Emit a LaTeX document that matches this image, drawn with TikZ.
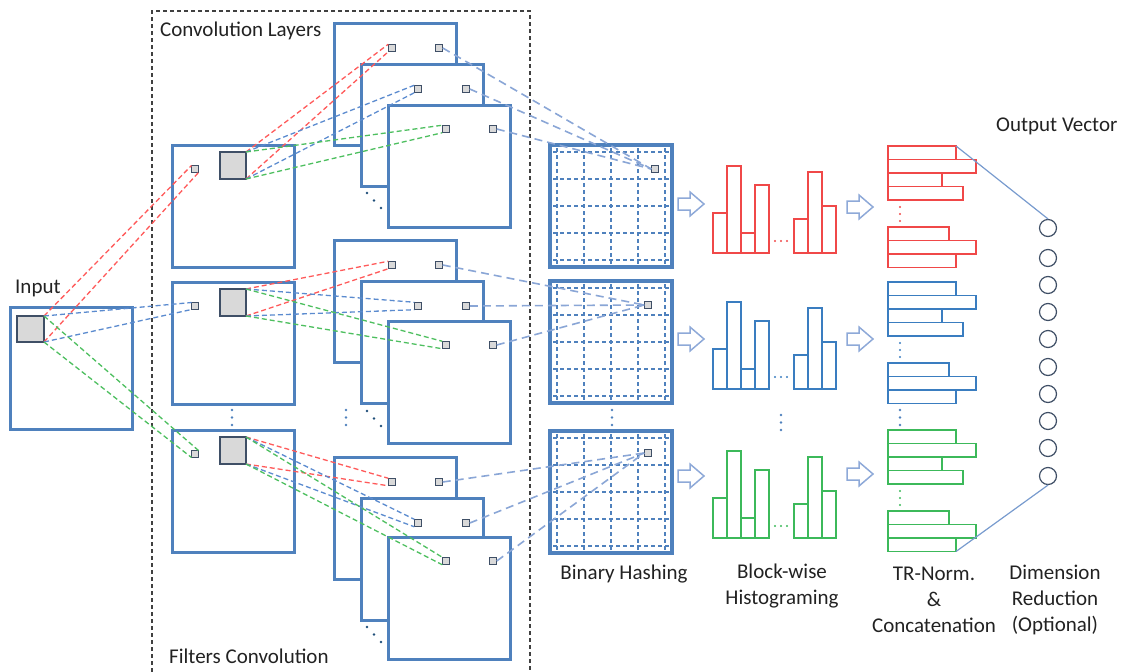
\documentclass[tikz,border=0pt]{standalone}
\usepackage{fontspec}
\setmainfont{Carlito}
\definecolor{boxblue}{HTML}{4F81BD}
\definecolor{lred}{HTML}{FF5A5A}
\definecolor{lblue}{HTML}{5B8BCF}
\definecolor{lgreen}{HTML}{4DBF5F}
\definecolor{hashblue}{HTML}{8AA6D6}
\definecolor{sqfill}{HTML}{D9D9D9}
\definecolor{sqedge}{HTML}{3F4F66}
\definecolor{hred}{HTML}{F04848}
\definecolor{hblue}{HTML}{3A7DC0}
\definecolor{hgreen}{HTML}{3CB95A}
\definecolor{txt}{HTML}{222222}
\definecolor{arrowc}{HTML}{8EA9D8}
\definecolor{dotdark}{HTML}{1F4E79}
\begin{document}
\begin{tikzpicture}[x=1pt,y=-1pt,font=\fontsize{21}{26}\selectfont,
  box/.style={draw=boxblue,line width=3pt,fill=white,minimum size=122pt,inner sep=0pt,outer sep=0pt},
  sq/.style={draw=sqedge,fill=sqfill,line width=1pt,minimum size=7.5pt,inner sep=0pt,outer sep=0pt},
  bigsq/.style={draw=sqedge,fill=sqfill,line width=1.1pt,minimum width=26pt,minimum height=27pt,inner sep=0pt,outer sep=0pt},
  conv/.style={dash pattern=on 5pt off 3pt,line width=1.3pt},
  hashline/.style={draw=hashblue,dash pattern=on 8pt off 5pt,line width=1.6pt},
  griddash/.style={draw=boxblue,dash pattern=on 4pt off 3pt,line width=1.2pt},
  lbl/.style={text=txt,inner sep=0pt},
  hist/.style={line width=1.7pt,fill=white},
  cb/.style={line width=1.7pt,fill=white},
  blockarrow/.style={draw=arrowc,line width=1.5pt,fill=white,line join=miter},
  outc/.style={circle,draw=sqedge,line width=1.2pt,minimum size=17pt,inner sep=0pt},
  fanline/.style={draw=hashblue!70!boxblue,line width=1.2pt}]
\useasboundingbox (0,0) rectangle (1125,672);

% dashed frame of convolution part
\draw[dash pattern=on 4pt off 3pt,line width=1.1pt,draw=black!75] (152,672) -- (152,11) -- (530,11) -- (530,672);

% input
\node[box] (inp) at (71,368) {};
\node[bigsq,minimum width=27pt,minimum height=26pt] (ig) at (30.5,329) {};

% filter boxes
\foreach \r/\t in {1/145,2/282,3/430}{
  \node[box] (fb\r) at (233,\t+61) {};
  \node[bigsq] (gs\r) at (233,\t+20.5) {};
  \node[sq,minimum size=7pt] (fs\r) at (195,\t+24) {};
}

% convolution layer stacks
\foreach \r/\tb/\tm/\tf in {1/23/64/105,2/240/281/321,3/457/498/537}{
  \node[box] (bk\r) at (395,\tb+61) {};
  \node[sq] (bL\r) at (392,\tb+25) {};
  \node[sq] (bR\r) at (439,\tb+25) {};
  \node[box] (md\r) at (422,\tm+61) {};
  \node[sq] (mL\r) at (418,\tm+25) {};
  \node[sq] (mR\r) at (466,\tm+25) {};
  \node[box] (fr\r) at (449,\tf+61) {};
  \node[sq] (fL\r) at (446,\tf+24) {};
  \node[sq] (fR\r) at (493,\tf+24) {};
}

% binary hashing grids
\foreach \r/\t/\sx/\sy in {1/145/655/169,2/281/648/305,3/431/648/453}{
  \node[box,line width=3.3pt] (gr\r) at (611,\t+61) {};
  \foreach \gx in {557,584,611,638,665} \draw[griddash] (\gx,\t+3) -- (\gx,\t+119);
  \foreach \gy in {7,34,61,88,115} \draw[griddash] (553,\t+\gy) -- (669,\t+\gy);
  \node[sq] (hs\r) at (\sx,\sy) {};
}

% input -> filters
\draw[conv,lred] (ig.north east) -- (fs1.north west);
\draw[conv,lred] (ig.south east) -- (fs1.south east);
\draw[conv,lblue] (ig.north east) -- (fs2.north west);
\draw[conv,lblue] (ig.south east) -- (fs2.south west);
\draw[conv,lgreen] (ig.north east) -- (fs3.north east);
\draw[conv,lgreen] (ig.south east) -- (fs3.south west);

% filters -> layers, layers -> hashing
\foreach \r in {1,2,3}{
  \draw[conv,lred] (gs\r.north east) -- (bL\r.north west);
  \draw[conv,lred] (gs\r.south east) -- (bL\r.south west);
  \draw[conv,lblue] (gs\r.north east) -- (mL\r.north west);
  \draw[conv,lblue] (gs\r.south east) -- (mL\r.south west);
  \draw[conv,lgreen] (gs\r.north east) -- (fL\r.north west);
  \draw[conv,lgreen] (gs\r.south east) -- (fL\r.south west);
  \draw[hashline] (bR\r.east) -- (hs\r.west);
  \draw[hashline] (mR\r.east) -- (hs\r.west);
  \draw[hashline] (fR\r.east) -- (hs\r.west);
}

% dots in convolution area
\foreach \y in {410,417.5,425}{
  \fill[boxblue] (232,\y) circle (1.3pt);
  \fill[boxblue] (346,\y) circle (1.3pt);
  \fill[boxblue] (612,\y) circle (1.3pt);
  \fill[boxblue] (900,\y) circle (1.3pt);
}
\foreach \yo in {0,218,434}{
  \fill[dotdark] (367,193+\yo) circle (1.4pt);
  \fill[dotdark] (374,200.5+\yo) circle (1.4pt);
  \fill[dotdark] (381,208+\yo) circle (1.4pt);
}

% block arrows
\foreach \x/\y in {678/204,678/339,678/476,847/207,847/339,847/474}
  \draw[blockarrow] (\x,\y-6) -- ++(12,0) -- ++(0,-6) -- ++(14,12) -- ++(-14,12) -- ++(0,-6) -- ++(-12,0) -- cycle;

% histograms
\foreach \B/\c in {253/hred,389/hblue,538/hgreen}{
  \foreach \h [count=\k from 0] in {40,87,20,68} \draw[hist,draw=\c] (713+\k*14,\B) rectangle ++(14,-\h);
  \foreach \h [count=\k from 0] in {34,81,47} \draw[hist,draw=\c] (794+\k*14,\B) rectangle ++(14,-\h);
  \foreach \dx in {0,6,12} \fill[\c] (775+\dx,\B-12) circle (1.1pt);
}
\foreach \y in {415,422.5,430} \fill[boxblue] (781,\y) circle (1.3pt);

% concatenated normalized histograms
\foreach \T/\U/\c in {146/227/hred,282/363/hblue,430/511/hgreen}{
  \foreach \w [count=\k from 0] in {956,976,942,963} \draw[cb,draw=\c] (888,\T+\k*13.5) rectangle (\w,\T+\k*13.5+13.5);
  \foreach \w [count=\k from 0] in {949,976,956} \draw[cb,draw=\c] (888,\U+\k*13.5) rectangle (\w,\U+\k*13.5+13.5);
  \foreach \dy in {0,7,14} \fill[\c] (900,\T+61+\dy) circle (1.2pt);
}
\coordinate (fanTop) at (956,146);
\coordinate (fanBot) at (956,551.5);

% output vector
\foreach \y [count=\i] in {228,258,285,312,339,367,394,421,448,476}
  \node[outc] (oc\i) at (1048,\y) {};
\draw[fanline] (fanTop) -- (oc1.north);
\draw[fanline] (fanBot) -- (oc10.south);

% labels
\node[lbl,anchor=west] (tconv) at (160,31) {Convolution Layers};
\node[lbl,anchor=west] (tin) at (15,288) {Input};
\node[lbl,anchor=west] (tfil) at (169,656) {Filters Convolution};
\node[lbl,anchor=west] (tout) at (996,126) {Output Vector};
\node[lbl] (tbin) at (624,574) {Binary Hashing};
\node[lbl,align=center] (tblk) at (782,586) {Block-wise\\Histograming};
\node[lbl,align=center] (ttr) at (934,599.5) {TR-Norm.\\\&\\Concatenation};
\node[lbl,align=center] (tdim) at (1055,599.5) {Dimension\\Reduction\\(Optional)};
\end{tikzpicture}
\end{document}
